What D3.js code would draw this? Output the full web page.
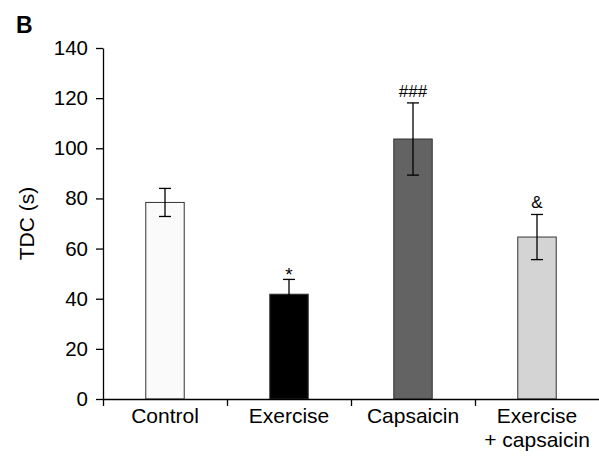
<!DOCTYPE html>
<html>
<head>
<meta charset="utf-8">
<script src="https://cdn.jsdelivr.net/npm/d3@7"></script>
<style>
  body { margin: 0; background: #fff; }
  text { font-family: "Liberation Sans", Arial, sans-serif; fill: #000; }
</style>
</head>
<body>
<svg id="chart" width="599" height="457"></svg>
<script>
// values
const groups = ["Control", "Exercise", "Capsaicin", "Exercise\n+ capsaicin"];
const means = [78.4, 41.8, 103.7, 64.6];
const errors = [5.6, 5.9, 14.4, 9.0];
const marks = ["", "*", "###", "&"];
const fills = ["#fafafa", "#000000", "#636363", "#d4d4d4"];
const yTicks = [0, 20, 40, 60, 80, 100, 120, 140];

const svg = d3.select("#chart"),
	margin = {left: 103, right: 0, top: 48, bottom: 58},
	W = 599, H = 457;

const x = d3.scaleBand().domain(groups).range([margin.left, W - margin.right]).paddingInner(0).paddingOuter(0);
const y = d3.scaleLinear().domain([0, 140]).range([H - margin.bottom, margin.top]);
const barW = x.bandwidth() * 0.31;

// panel letter
svg.append("text")
	.attr("x", 16).attr("y", 33)
	.style("font-size", "23px").style("font-weight", "bold")
	.text("B");

// y axis
const yAxis = svg.append("g")
	.attr("transform", `translate(${margin.left},0)`)
	.call(d3.axisLeft(y).tickValues(yTicks).tickSize(7).tickSizeOuter(0).tickPadding(8));
yAxis.select(".domain").attr("stroke", "#000").attr("stroke-width", 1.3);
yAxis.selectAll(".tick line").attr("stroke", "#000").attr("stroke-width", 1.3);
yAxis.selectAll(".tick text").style("font-size", "20.5px").attr("font-family", null);

svg.append("text")
	.attr("transform", "rotate(-90)")
	.attr("x", -(margin.top + y(0)) / 2)
	.attr("y", 34)
	.attr("text-anchor", "middle")
	.style("font-size", "21px")
	.text("TDC (s)");

// bars
svg.selectAll("rect.bar")
	.data(groups)
	.join("rect")
	.attr("class", "bar")
	.attr("x", d => x(d) + x.bandwidth() / 2 - barW / 2)
	.attr("y", (d, i) => y(means[i]))
	.attr("width", barW)
	.attr("height", (d, i) => y(0) - y(means[i]))
	.attr("fill", (d, i) => fills[i])
	.attr("stroke", "#333")
	.attr("stroke-width", 1);

// error bars
const eb = svg.selectAll("g.err")
	.data(groups)
	.join("g")
	.attr("class", "err")
	.attr("transform", d => `translate(${x(d) + x.bandwidth() / 2},0)`);
eb.append("line")
	.attr("y1", (d, i) => y(means[i] - errors[i]))
	.attr("y2", (d, i) => y(means[i] + errors[i]))
	.attr("stroke", "#000").attr("stroke-width", 1.3);
eb.append("line")
	.attr("x1", -6).attr("x2", 6)
	.attr("y1", (d, i) => y(means[i] + errors[i]))
	.attr("y2", (d, i) => y(means[i] + errors[i]))
	.attr("stroke", "#000").attr("stroke-width", 1.3);
eb.append("line")
	.attr("x1", -6).attr("x2", 6)
	.attr("y1", (d, i) => y(means[i] - errors[i]))
	.attr("y2", (d, i) => y(means[i] - errors[i]))
	.attr("stroke", "#000").attr("stroke-width", 1.3);

// significance marks
eb.append("text")
	.attr("text-anchor", "middle")
	.attr("y", (d, i) => y(means[i] + errors[i]) - 6)
	.attr("dy", (d, i) => marks[i] == "*" ? "0.4em" : 0)
	.style("font-size", (d, i) => marks[i] == "*" ? "19px" : "17px")
	.text((d, i) => marks[i]);

// x axis: line plus ticks at category boundaries
const xb = d3.scaleLinear().domain([0, groups.length]).range(x.range());
const xAxis = svg.append("g")
	.attr("transform", `translate(0,${y(0)})`)
	.call(d3.axisBottom(xb).tickValues(d3.range(groups.length)).tickSize(7).tickSizeOuter(0).tickFormat(""));
xAxis.select(".domain").attr("stroke", "#000").attr("stroke-width", 1.3);
xAxis.selectAll(".tick line").attr("stroke", "#000").attr("stroke-width", 1.3);

// category labels
const lab = svg.selectAll("text.cat")
	.data(groups)
	.join("text")
	.attr("class", "cat")
	.attr("text-anchor", "middle")
	.attr("transform", d => `translate(${x(d) + x.bandwidth() / 2},${y(0) + 24})`)
	.style("font-size", "21px");
lab.selectAll("tspan")
	.data(d => d.split("\n"))
	.join("tspan")
	.attr("x", 0)
	.attr("dy", (d, i) => i == 0 ? 0 : 24)
	.text(d => d);
</script>
</body>
</html>
